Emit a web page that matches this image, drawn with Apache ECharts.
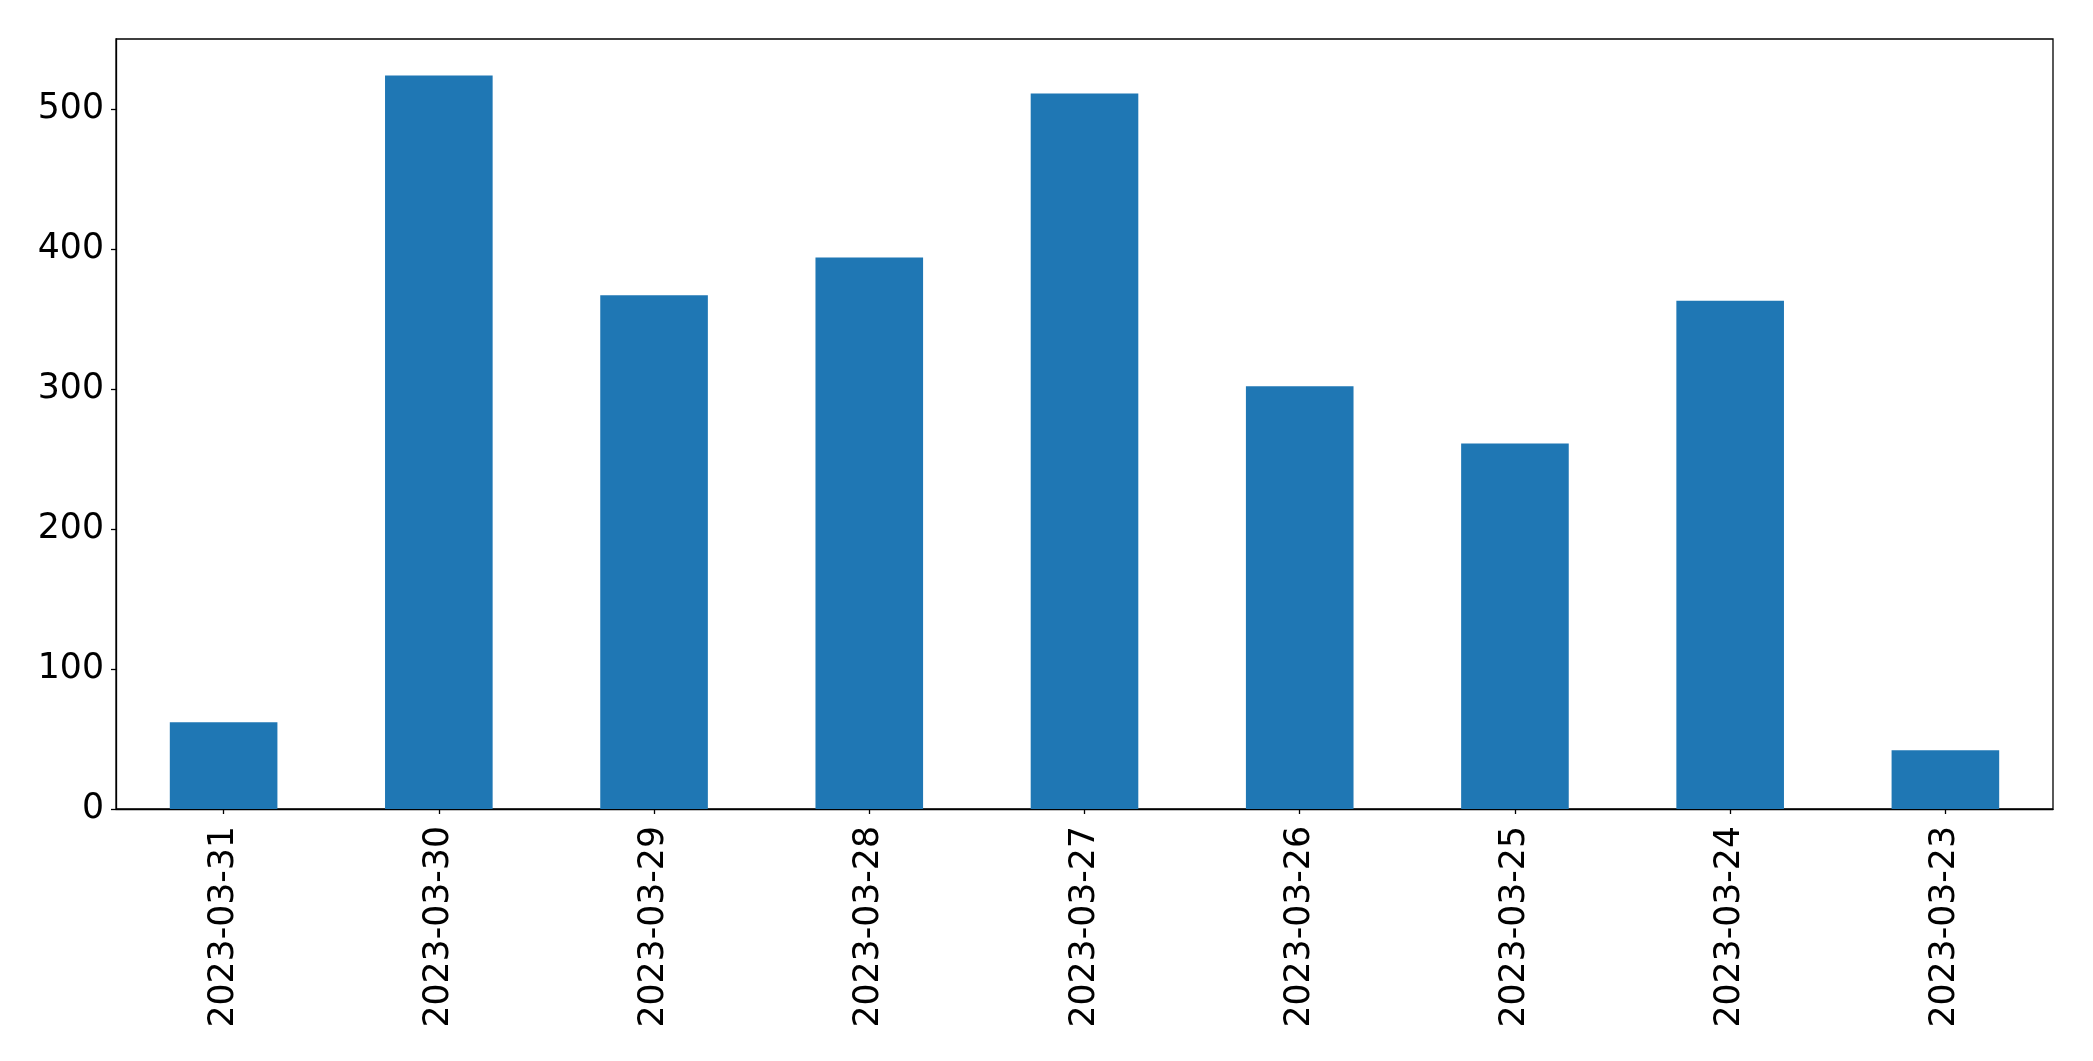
<!DOCTYPE html>
<html>
<head>
<meta charset="utf-8">
<script src="https://cdn.jsdelivr.net/npm/echarts@6/dist/echarts.min.js"></script>
<style>
  html, body { margin: 0; padding: 0; background: #fff; }
  #chart { width: 2093px; height: 1061px; }
</style>
</head>
<body>
<div id="chart"></div>
<script>
// categories (dates, newest first as in the picture)
var dates = ['2023-03-31', '2023-03-30', '2023-03-29', '2023-03-28', '2023-03-27',
             '2023-03-26', '2023-03-25', '2023-03-24', '2023-03-23'];
// bar values
var counts = [62, 524, 367, 394, 511, 302, 261, 363, 42];
// y axis ticks
var yTicks = [0, 100, 200, 300, 400, 500];

var font = 'DejaVu Sans';
var chart = echarts.init(document.getElementById('chart'));

chart.setOption({
    animation: false,
    grid: { left: 116, right: 40, top: 39, bottom: 252, containLabel: false,
            show: true, borderColor: '#000', borderWidth: 1.3 },
    xAxis: {
        type: 'category',
        data: dates,
        axisLine: { show: true, lineStyle: { color: '#000', width: 1.3 } },
        axisTick: { show: true, alignWithLabel: true, length: 5, lineStyle: { color: '#000', width: 1.3 } },
        axisLabel: { rotate: 90, margin: 17, color: '#000', fontFamily: font, fontSize: 34.7, interval: 0 },
        splitLine: { show: false }
    },
    yAxis: {
        type: 'value',
        min: 0,
        max: 550,
        interval: 100,
        axisLine: { show: true, lineStyle: { color: '#000', width: 1.3 } },
        axisTick: { show: true, length: 5, lineStyle: { color: '#000', width: 1.3 } },
        axisLabel: {
            margin: 12, color: '#000', fontFamily: font, fontSize: 34.7,
            showMaxLabel: false,
            formatter: function (v) { return yTicks.indexOf(v) >= 0 ? String(v) : ''; }
        },
        splitLine: { show: false }
    },
    series: [{
        type: 'bar',
        data: counts,
        barWidth: '50%',
        itemStyle: { color: '#1f77b4' }
    }]
});
</script>
</body>
</html>
